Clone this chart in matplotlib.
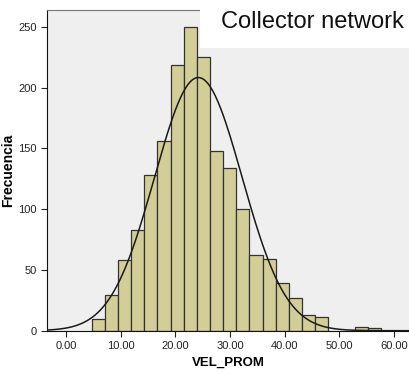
# Histogram of VEL_PROM with fitted normal curve (SPSS style).
import numpy as np
import matplotlib
matplotlib.use("Agg")
import matplotlib.pyplot as plt
from matplotlib.patches import Rectangle

# bin layout and counts
bin_start = 4.70
bin_width = 2.404
counts = [10, 29, 58, 83, 128, 156, 219, 250, 225, 148, 134, 100,
          62, 59, 39, 27, 13, 11, 0, 0, 3, 2]
# normal curve parameters
mean_vel = 24.2
std_vel = 8.0

x_ticks = [0, 10, 20, 30, 40, 50, 60]
y_ticks = [0, 50, 100, 150, 200, 250]
title = "Collector network"

plt.rcParams["font.family"] = ["Liberation Sans", "DejaVu Sans"]

fig = plt.figure(figsize=(4.10, 3.74), dpi=100)
ax = fig.add_axes([0.1146, 0.1158, 0.8854, 0.8575])
ax.set_facecolor("#efefef")

edges = bin_start + bin_width * np.arange(len(counts))
heights = np.array(counts)
mask = heights > 0
ax.bar(edges[mask], heights[mask], width=bin_width, align="edge",
       color="#d3ce97", edgecolor="#333333", linewidth=0.9, zorder=2)

n_total = heights.sum()
xs = np.linspace(-3.5, 63, 400)
pdf = np.exp(-0.5 * ((xs - mean_vel) / std_vel) ** 2) / (std_vel * np.sqrt(2 * np.pi))
ax.plot(xs, n_total * bin_width * pdf * 0.99, color="#1a1a1a", lw=1.1, zorder=3)

ax.set_xlim(-3.47, 62.9)
ax.set_ylim(0, 264)
ax.set_xticks(x_ticks)
ax.set_xticklabels([f"{t:.2f}" for t in x_ticks])
ax.set_yticks(y_ticks)
ax.tick_params(axis="both", labelsize=8, colors="#222222", length=4, width=0.8)

ax.spines["right"].set_visible(False)
ax.spines["top"].set_color("#777777")
ax.spines["left"].set_color("#111111")
ax.spines["bottom"].set_color("#111111")

ax.set_xlabel("VEL_PROM", fontsize=9.5, fontweight="bold", labelpad=4)
ax.set_ylabel("Frecuencia", fontsize=10, fontweight="bold")
ax.yaxis.set_label_coords(-0.088, 0.5)

# white title box over the top-right corner
fig.patches.append(Rectangle((200 / 410, 1 - 48 / 374), 210 / 410, 48 / 374,
                             transform=fig.transFigure, facecolor="white",
                             edgecolor="none", zorder=5))
fig.text(312 / 410, 1 - 22 / 374, title, fontsize=17, ha="center",
         va="center", color="#111111", zorder=6)

fig.savefig("out.png", dpi=100)
